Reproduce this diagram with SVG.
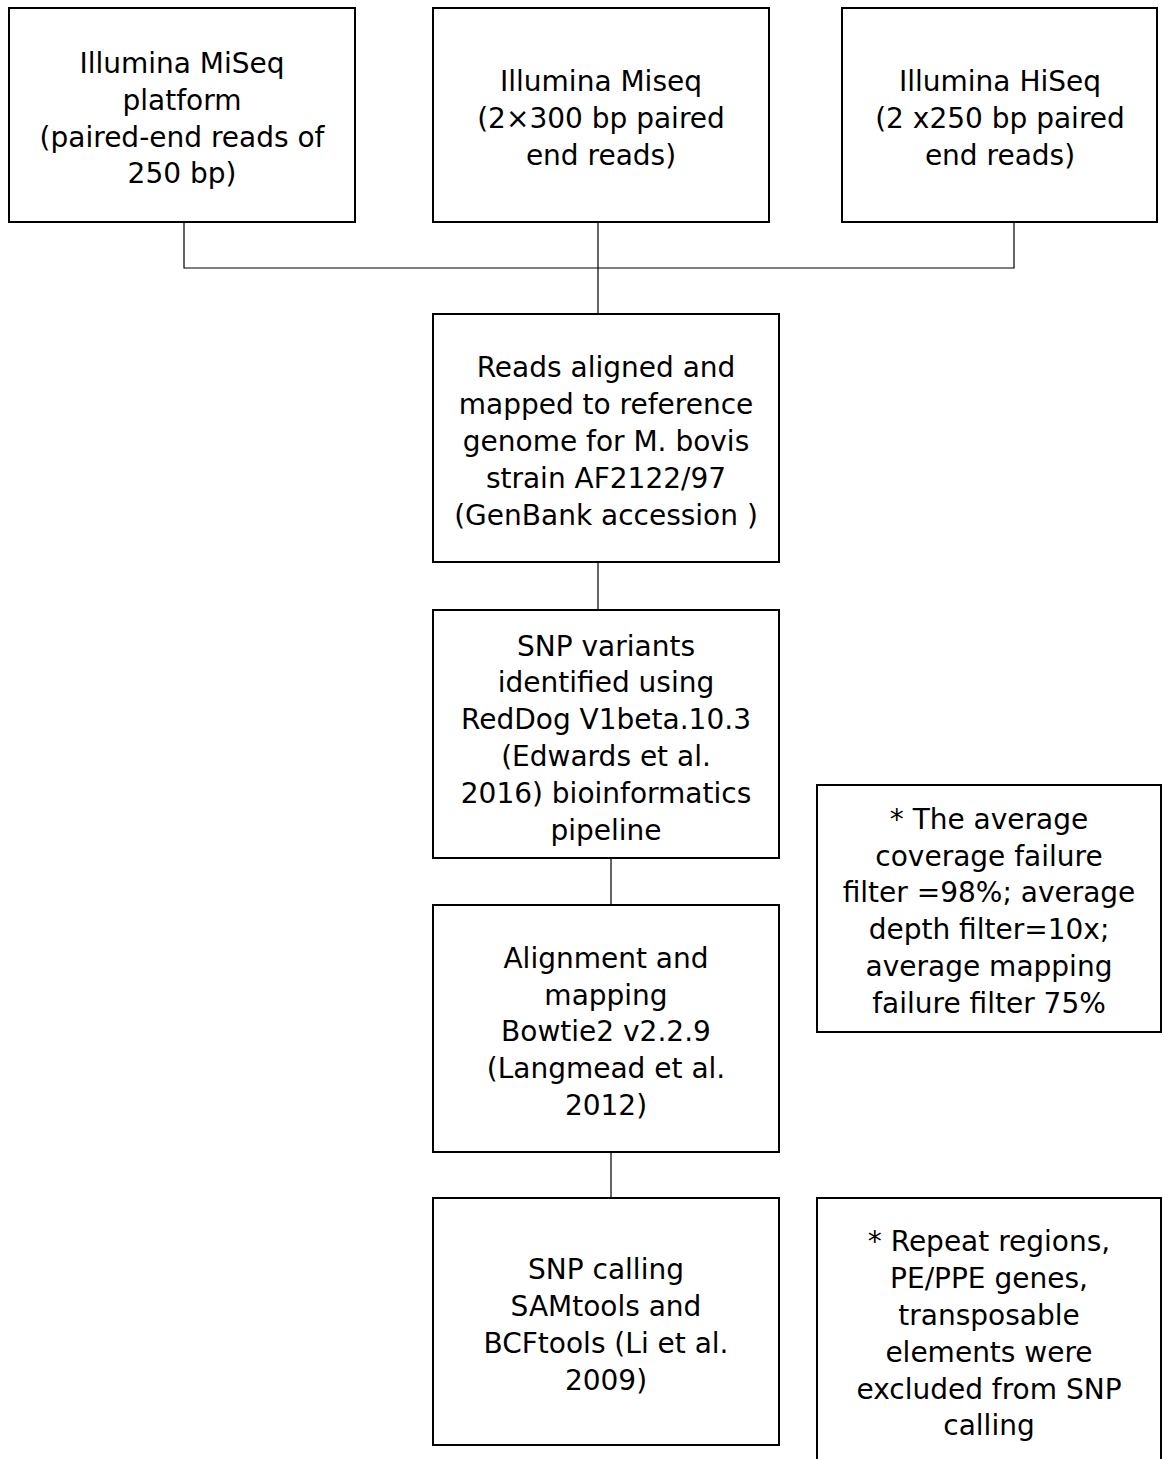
<svg xmlns="http://www.w3.org/2000/svg" width="1165" height="1459" viewBox="0 0 1165 1459">
<style>
.box{fill:#fff;stroke:#000;stroke-width:2}
.conn{fill:none;stroke:#000;stroke-width:1.2}
text{font-family:"DejaVu Sans",sans-serif;font-size:28px;fill:#000;text-anchor:middle}
</style>
<rect width="1165" height="1459" fill="#fff"/>
<g id="connectors">
<path class="conn" d="M184,222V268H1014V222M598,222V315M598,562V610M611,858V905M611,1152V1198"/>
</g>
<g id="n1"><rect class="box" x="9" y="8" width="346" height="214"/>
<text x="182" y="73">Illumina MiSeq</text><text x="182" y="110">platform</text><text x="182" y="147">(paired-end reads of</text><text x="182" y="183">250 bp)</text></g>
<g id="n2"><rect class="box" x="433" y="8" width="336" height="214"/>
<text x="601" y="91">Illumina Miseq</text><text x="601" y="128">(2×300 bp paired</text><text x="601" y="165">end reads)</text></g>
<g id="n3"><rect class="box" x="842" y="8" width="315" height="214"/>
<text x="1000" y="91">Illumina HiSeq</text><text x="1000" y="128">(2 x250 bp paired</text><text x="1000" y="165">end reads)</text></g>
<g id="n4"><rect class="box" x="433" y="314" width="346" height="248"/>
<text x="606" y="377">Reads aligned and</text><text x="606" y="414">mapped to reference</text><text x="606" y="451">genome for M. bovis</text><text x="606" y="488">strain AF2122/97</text><text x="606" y="525">(GenBank accession )</text></g>
<g id="n5"><rect class="box" x="433" y="610" width="346" height="248"/>
<text x="606" y="656">SNP variants</text><text x="606" y="692">identified using</text><text x="606" y="729">RedDog V1beta.10.3</text><text x="606" y="766">(Edwards et al.</text><text x="606" y="803">2016) bioinformatics</text><text x="606" y="840">pipeline</text></g>
<g id="n6"><rect class="box" x="433" y="905" width="346" height="247"/>
<text x="606" y="968">Alignment and</text><text x="606" y="1005">mapping</text><text x="606" y="1041">Bowtie2 v2.2.9</text><text x="606" y="1078">(Langmead et al.</text><text x="606" y="1115">2012)</text></g>
<g id="n7"><rect class="box" x="433" y="1198" width="346" height="247"/>
<text x="606" y="1279">SNP calling</text><text x="606" y="1316">SAMtools and</text><text x="606" y="1353">BCFtools (Li et al.</text><text x="606" y="1390">2009)</text></g>
<g id="n8"><rect class="box" x="817" y="785" width="344" height="247"/>
<text x="989" y="829">* The average</text><text x="989" y="866">coverage failure</text><text x="989" y="902">filter =98%; average</text><text x="989" y="939">depth filter=10x;</text><text x="989" y="976">average mapping</text><text x="989" y="1013">failure filter 75%</text></g>
<g id="n9"><rect class="box" x="817" y="1198" width="344" height="290"/>
<text x="989" y="1251">* Repeat regions,</text><text x="989" y="1288">PE/PPE genes,</text><text x="989" y="1325">transposable</text><text x="989" y="1362">elements were</text><text x="989" y="1399">excluded from SNP</text><text x="989" y="1435">calling</text></g>
</svg>
